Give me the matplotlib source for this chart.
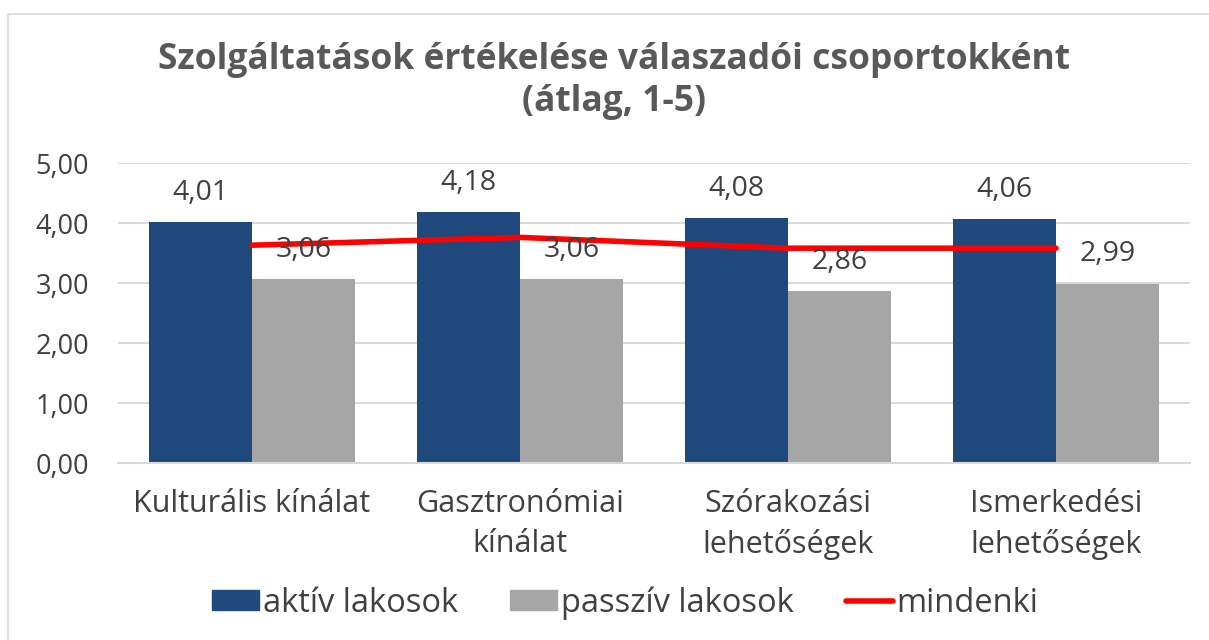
import matplotlib
matplotlib.use("Agg")
import matplotlib.pyplot as plt
from matplotlib.patches import Rectangle, Patch
from matplotlib.lines import Line2D
import numpy as np

plt.rcParams['font.family'] = ['Open Sans', 'DejaVu Sans']

# adatok
kategoriak = ["Kulturális kínálat", "Gasztronómiai\nkínálat",
              "Szórakozási\nlehetőségek", "Ismerkedési\nlehetőségek"]
aktiv = [4.01, 4.18, 4.08, 4.06]
passziv = [3.06, 3.06, 2.86, 2.99]
mindenki = [3.63, 3.76, 3.58, 3.58]
ytick_ertekek = [0, 1, 2, 3, 4, 5]
ytick_cimkek = ["0,00", "1,00", "2,00", "3,00", "4,00", "5,00"]

kek = "#1F497D"
szurke = "#A6A6A6"
piros = "#FF0000"
szoveg = "#404040"

fig = plt.figure(figsize=(12.09, 6.4), dpi=100)
# diagram keret
fig.patches.append(Rectangle((8 / 1209, -0.1), 1.2, (640 - 14) / 640 + 0.1,
                             transform=fig.transFigure, fill=False,
                             edgecolor="#D9D9D9", linewidth=1.2))

ax = fig.add_axes([118 / 1209, (640 - 463) / 640, (1190 - 118) / 1209, 300 / 640])

x = np.arange(len(kategoriak))
w = 0.386
ax.bar(x - w / 2, aktiv, w, color=kek, zorder=2)
ax.bar(x + w / 2, passziv, w, color=szurke, zorder=2)
ax.plot(x, mindenki, color=piros, linewidth=4, solid_capstyle="round", zorder=3)

for xi, v in zip(x - w / 2, aktiv):
    ax.annotate(f"{v:.2f}".replace(".", ","), (xi, v), xytext=(0, 11),
                textcoords="offset points", ha="center", va="bottom",
                fontsize=20.5, color=szoveg, zorder=4)
for xi, v in zip(x + w / 2, passziv):
    ax.annotate(f"{v:.2f}".replace(".", ","), (xi, v), xytext=(0, 11),
                textcoords="offset points", ha="center", va="bottom",
                fontsize=20.5, color=szoveg, zorder=4)

ax.set_xlim(-0.5, len(kategoriak) - 0.5)
ax.set_ylim(0, 5)
ax.set_yticks(ytick_ertekek)
ax.set_yticklabels(ytick_cimkek, fontsize=19.5, color=szoveg)
ax.set_xticks(x)
ax.set_xticklabels(kategoriak, fontsize=22, color=szoveg, linespacing=1.4)
ax.tick_params(axis="both", length=0)
ax.tick_params(axis="y", pad=21)
ax.tick_params(axis="x", pad=19)
ax.grid(axis="y", color="#D9D9D9", linewidth=1.5, zorder=0)
for s in ["top", "right", "left"]:
    ax.spines[s].set_visible(False)
ax.spines["bottom"].set_color("#D9D9D9")
ax.spines["bottom"].set_linewidth(1.5)

fig.text(614 / 1209, 1 - 60 / 640, "Szolgáltatások értékelése válaszadói csoportokként",
         ha="center", va="center", fontsize=25.5, fontweight="bold", color="#595959")
fig.text(614 / 1209, 1 - 102 / 640, "(átlag, 1-5)",
         ha="center", va="center", fontsize=25.5, fontweight="bold", color="#595959")

kezelok = [Patch(color=kek), Patch(color=szurke),
           Line2D([0], [0], color=piros, linewidth=4, solid_capstyle="round")]
fig.legend(kezelok, ["aktív lakosok", "passzív lakosok", "mindenki"],
           loc="center", bbox_to_anchor=(625 / 1209, 1 - 603 / 640), ncol=3,
           frameon=False, fontsize=23.5, labelcolor=szoveg,
           handlelength=1.45, handleheight=0.55, handletextpad=0.1, columnspacing=1.6)

fig.savefig("out.png", dpi=100)
